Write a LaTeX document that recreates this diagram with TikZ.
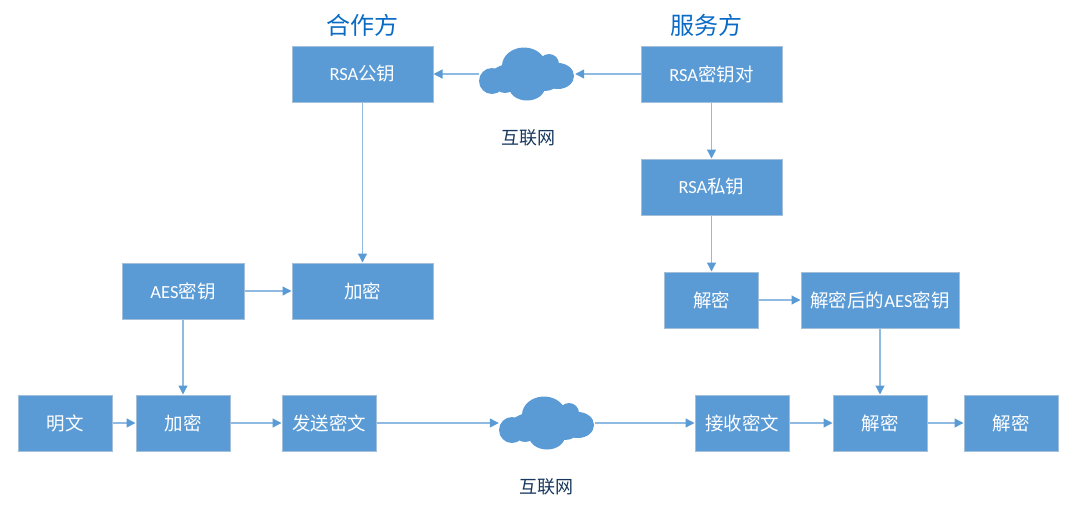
\documentclass[tikz,border=0pt]{standalone}
\usepackage{fontspec}
\setmainfont{Carlito}
\newfontfamily\cjk{Noto Sans CJK SC}
\usetikzlibrary{arrows.meta}
\definecolor{boxblue}{HTML}{5B9BD5}
\definecolor{boxedge}{HTML}{A3BFD9}
\definecolor{lnkblue}{HTML}{8FBBE3}
\definecolor{ttlblue}{HTML}{0B6BC4}
\definecolor{netblue}{HTML}{17375E}
\begin{document}
\begin{tikzpicture}[x=1pt,y=-1pt]
\tikzstyle{box}=[rectangle, draw=boxedge, fill=boxblue, line width=1pt, inner sep=0pt,
                        minimum height=56pt, text=white, font=\fontsize{18.5}{20}\selectfont]
\tikzstyle{wide}=[box, minimum width=141pt]
\tikzstyle{mid}=[box, minimum width=122pt]
\tikzstyle{small}=[box, minimum width=94pt]
% cloud built from overlapping lobes, the node itself is only a rectangle for the arrows
\tikzstyle{net}=[rectangle, inner sep=0pt, minimum width=96pt, minimum height=54pt, path picture={
    \foreach \dx/\dy/\rx/\ry in {-35/7/13/13,-3/-8/22/18.5,22/-10/10/10,31/2/16/13,0/13/18/13.5,-4/3/34/15,-22/10/10/9,18/8/13/9}{
    \fill[boxblue] ([shift={(\dx pt,-\dy pt)}]path picture bounding box.center) ellipse ({\rx pt} and {\ry pt});}}]
\tikzstyle{lnk}=[-{Triangle[length=9pt,width=9pt,color=boxblue]}, lnkblue, line width=1.3pt]
\tikzstyle{ttl}=[text=ttlblue, font=\fontsize{24}{26}\selectfont\cjk]
\tikzstyle{netlbl}=[text=netblue, font=\fontsize{18}{20}\selectfont\cjk]
\useasboundingbox (0,0) rectangle (1076,507);
% top row
\node[ttl] (partner) at (362.5,25) {合作方};
\node[ttl] (server) at (706,25) {服务方};
\node[wide] (pub) at (362.5,74) {RSA{\cjk 公钥}};
\node[net] (webtop) at (527,74) {};
\node[wide] (pair) at (711.5,74) {RSA{\cjk 密钥对}};
\node[netlbl] (captop) at (528,138) {互联网};
\node[wide] (priv) at (711.5,187) {RSA{\cjk 私钥}};
% middle row
\node[mid] (aes) at (183,291) {AES{\cjk 密钥}};
\node[wide] (encA) at (362.5,291) {\cjk 加密};
\node[small] (decA) at (711.5,300) {\cjk 解密};
\node[box, minimum width=158pt] (aesout) at (880,300) {{\cjk 解密后的}AES{\cjk 密钥}};
% bottom row
\node[small] (plain) at (65,423) {\cjk 明文};
\node[small] (encB) at (183,423) {\cjk 加密};
\node[small] (send) at (329,423) {\cjk 发送密文};
\node[net] (webbot) at (547,423) {};
\node[small] (recv) at (742,423) {\cjk 接收密文};
\node[small] (decB) at (880,423) {\cjk 解密};
\node[small] (decC) at (1011,423) {\cjk 解密};
\node[netlbl] (capbot) at (546,487) {互联网};
\foreach \i/\j in {pair/webtop,webtop/pub,pair/priv,priv/decA,pub/encA,aes/encA,aes/encB,decA/aesout,aesout/decB,plain/encB,encB/send,send/webbot,webbot/recv,recv/decB,decB/decC}{\draw[lnk] (\i) -- (\j);}
\end{tikzpicture}
\end{document}
